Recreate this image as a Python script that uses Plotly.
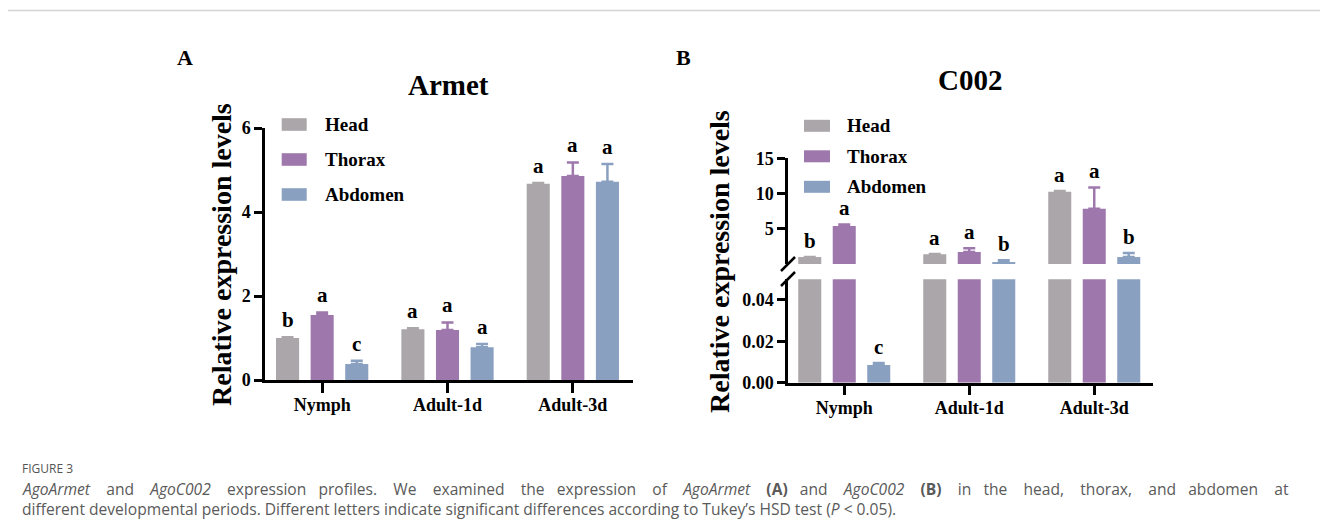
import plotly.graph_objects as go

# ---------------- data ----------------
categories = ["Nymph", "Adult-1d", "Adult-3d"]
tissues = ["Head", "Thorax", "Abdomen"]
colors = ["#aba6a9", "#9e78ac", "#8aa0c1"]

armet_head = [1.00, 1.21, 4.67]
armet_head_err = [0.02, 0.02, 0.02]
armet_thorax = [1.55, 1.19, 4.86]
armet_thorax_err = [0.06, 0.18, 0.32]
armet_abdomen = [0.38, 0.78, 4.72]
armet_abdomen_err = [0.08, 0.08, 0.42]
armet_head_letters = ["b", "a", "a"]
armet_thorax_letters = ["a", "a", "a"]
armet_abdomen_letters = ["c", "a", "a"]

c002_head = [1.02, 1.42, 10.26]
c002_head_err = [0.02, 0.02, 0.10]
c002_thorax = [5.43, 1.73, 7.84]
c002_thorax_err = [0.20, 0.55, 3.04]
c002_abdomen = [0.0086, 0.31, 1.02]
c002_abdomen_err = [0.0009, 0.25, 0.57]
c002_head_letters = ["b", "a", "a"]
c002_thorax_letters = ["a", "a", "a"]
c002_abdomen_letters = ["c", "b", "b"]

armet_ticks = [0, 2, 4, 6]
c002_low_ticks = [0, 0.02, 0.04]
c002_high_ticks = [5, 10, 15]

# ---------------- helpers ----------------
W, H = 1328, 524
OFF = 8  # page body margin
SERIF = "Liberation Serif, Times New Roman, serif"


def fx(px):
    return (px - OFF) / W


def fy(py):
    return 1 - (py - OFF) / H


armet_vals = [armet_head, armet_thorax, armet_abdomen]
armet_errs = [armet_head_err, armet_thorax_err, armet_abdomen_err]
armet_lets = [armet_head_letters, armet_thorax_letters, armet_abdomen_letters]
c002_vals = [c002_head, c002_thorax, c002_abdomen]
c002_errs = [c002_head_err, c002_thorax_err, c002_abdomen_err]
c002_lets = [c002_head_letters, c002_thorax_letters, c002_abdomen_letters]

LOW_MAX = 0.05
SLOT = 0.276

fig = go.Figure()


def add_bars(vals, errs, xa, ya, keep=lambda v: True):
    for k, t in enumerate(tissues):
        yv = [v if keep(v) else None for v in vals[k]]
        fig.add_trace(go.Bar(
            x=categories, y=yv, name=t, xaxis=xa, yaxis=ya,
            marker=dict(color=colors[k], line=dict(width=0)),
            error_y=dict(type="data", symmetric=False, array=errs[k],
                         arrayminus=[0] * len(errs[k]), color=colors[k],
                         thickness=2.5, width=6),
            showlegend=False,
        ))


add_bars(armet_vals, armet_errs, "x", "y")
add_bars(c002_vals, c002_errs, "x2", "y3")
add_bars(c002_vals, c002_errs, "x2", "y4", keep=lambda v: v > LOW_MAX)

annotations = []
letter_font = dict(family=SERIF, size=21, color="black", weight="bold")
for k in range(3):
    for i in range(3):
        top = armet_vals[k][i] + armet_errs[k][i]
        annotations.append(dict(xref="x", yref="y", x=i + (k - 1) * SLOT, y=top,
                                text=armet_lets[k][i], showarrow=False,
                                yshift=17, yanchor="middle", font=letter_font))
        top = c002_vals[k][i] + c002_errs[k][i]
        ya = "y3" if top < LOW_MAX else "y4"
        annotations.append(dict(xref="x2", yref=ya, x=i + (k - 1) * SLOT, y=top,
                                text=c002_lets[k][i], showarrow=False,
                                yshift=16, yanchor="middle", font=letter_font))

axis_common = dict(showline=True, linecolor="black", linewidth=2.5, ticks="outside",
                   tickcolor="black", tickwidth=2.5, showgrid=False, zeroline=False,
                   automargin=False,
                   tickfont=dict(family=SERIF, size=18, color="black", weight="bold"))

fig.update_layout(
    width=W, height=H, margin=dict(l=0, r=0, t=0, b=0, pad=0, autoexpand=False),
    paper_bgcolor="white", plot_bgcolor="rgba(0,0,0,0)",
    barmode="group", bargap=0.172, bargroupgap=0.333, showlegend=False,
    xaxis=dict(domain=[fx(265), fx(633)], anchor="y", type="category",
               range=[-0.456, 2.48], ticklen=10, ticklabelstandoff=-3, **axis_common),
    yaxis=dict(domain=[fy(380), fy(128)], anchor="x", range=[0, 6],
               tickvals=armet_ticks, ticklen=8, **axis_common),
    xaxis2=dict(domain=[fx(788), fx(1153)], anchor="y3", type="category",
                range=[-0.45, 2.47], ticklen=10, ticklabelstandoff=-3, **axis_common),
    yaxis3=dict(domain=[fy(382.7), fy(279.3)], anchor="x2", range=[0, LOW_MAX],
                tickvals=c002_low_ticks, tickformat=".2f", ticklen=8, **axis_common),
    yaxis4=dict(domain=[fy(263.9), fy(158.3)], anchor="x2", range=[0.05, 15],
                tickvals=c002_high_ticks, ticklen=8, **axis_common),
)


def ptext(x, y, text, size, **kw):
    d = dict(xref="paper", yref="paper", x=fx(x), y=fy(y), text=text, showarrow=False,
             font=dict(family=SERIF, size=size, color="black", weight="bold"),
             xanchor="center", yanchor="middle")
    d.update(kw)
    annotations.append(d)


ptext(185, 57, "A", 22)
ptext(683, 57, "B", 22)
ptext(448, 85, "Armet", 29)
ptext(970, 80, "C002", 29)
ptext(221, 255, "Relative expression levels", 28, textangle=-90)
ptext(719, 262, "Relative expression levels", 28, textangle=-90)

shapes = []
for k, t in enumerate(tissues):
    cy = 124.5 + 35 * k
    shapes.append(dict(type="rect", xref="paper", yref="paper", x0=fx(281.7), x1=fx(306.7),
                       y0=fy(cy + 6.3), y1=fy(cy - 6.3), fillcolor=colors[k], line=dict(width=0)))
    ptext(323, cy, t, 19, xanchor="left")
    cy = 125.8 + 30.5 * k
    shapes.append(dict(type="rect", xref="paper", yref="paper", x0=fx(804), x1=fx(830),
                       y0=fy(cy + 6), y1=fy(cy - 6), fillcolor=colors[k], line=dict(width=0)))
    ptext(845, cy, t, 19, xanchor="left")

for (x0, y0, x1, y1) in [(781, 271, 795, 257), (781, 286, 795, 272)]:
    shapes.append(dict(type="line", xref="paper", yref="paper", x0=fx(x0), y0=fy(y0),
                       x1=fx(x1), y1=fy(y1), line=dict(color="black", width=2.5)))

shapes.append(dict(type="rect", xref="paper", yref="paper", x0=fx(4.5), x1=fx(1326.5),
                   y0=-0.05, y1=fy(10.5), line=dict(color="#d4d4d4", width=1.5),
                   layer="below"))

CAP = "Open Sans, sans-serif"
NB = "\u00a0"
words1 = ["<i>AgoArmet</i>", "and", "<i>AgoC002</i>", "expression", "profiles.", "We", "examined",
          "the", "expression", "of", "<i>AgoArmet</i>", "<b>(A)</b>", "and", "<i>AgoC002</i>",
          "<b>(B)</b>", "in", "the", "head,", "thorax,", "and", "abdomen", "at"]
line1 = words1[0]
for j, w in enumerate(words1[1:]):
    line1 += " " + NB * (2 if j % 4 == 3 else 3) + w

annotations.append(dict(xref="paper", yref="paper", x=fx(20), y=fy(468), text="FIGURE 3",
                        showarrow=False, xanchor="left", yanchor="middle",
                        font=dict(family=CAP, size=12, color="#555555")))
annotations.append(dict(xref="paper", yref="paper", x=fx(20), y=fy(489), text=line1,
                        showarrow=False, xanchor="left", yanchor="middle",
                        font=dict(family=CAP, size=15.6, color="#5a5a5a")))
annotations.append(dict(xref="paper", yref="paper", x=fx(20), y=fy(509),
                        text="different developmental periods. Different letters indicate significant differences "
                             "according to Tukey\u2019s HSD test (<i>P</i> &lt; 0.05).",
                        showarrow=False, xanchor="left", yanchor="middle",
                        font=dict(family=CAP, size=15.6, color="#5a5a5a")))

fig.update_layout(annotations=annotations, shapes=shapes)
fig.write_html("out.html")
